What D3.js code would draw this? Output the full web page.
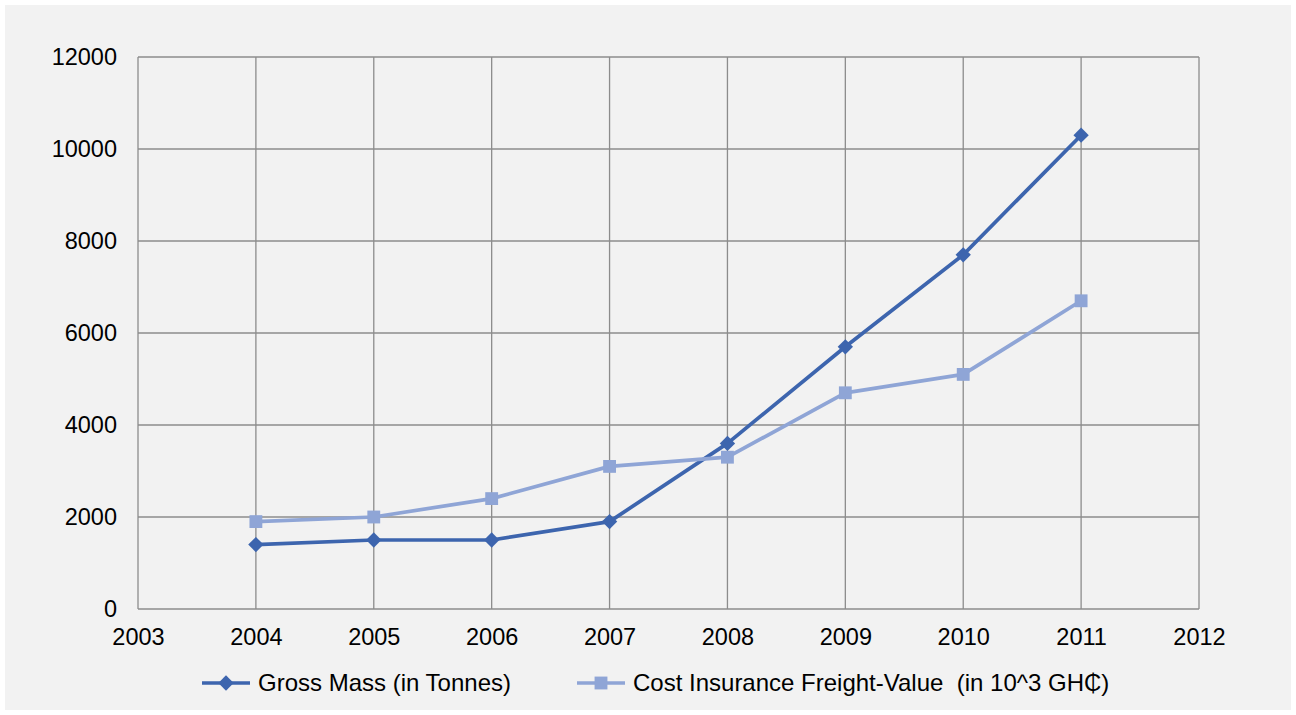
<!DOCTYPE html>
<html>
<head>
<meta charset="utf-8">
<script src="https://cdn.jsdelivr.net/npm/d3@7"></script>
<style>
  body { margin: 0; background: #fff; }
  svg { display: block; font-family: "Liberation Sans", Arial, sans-serif; }
</style>
</head>
<body>
<svg id="chart" width="1296" height="715"></svg>
<script>
const years = [2004, 2005, 2006, 2007, 2008, 2009, 2010, 2011];
const grossMass = [1400, 1500, 1500, 1900, 3600, 5700, 7700, 10300];
const cifValue = [1900, 2000, 2400, 3100, 3300, 4700, 5100, 6700];
const yTicks = [0, 2000, 4000, 6000, 8000, 10000, 12000];
const xTicks = [2003, 2004, 2005, 2006, 2007, 2008, 2009, 2010, 2011, 2012];

const series = [
  {name: 'Gross Mass (in Tonnes)', values: grossMass, color: '#3d65ae', shape: d3.symbolDiamond2, size: 150},
  {name: 'Cost Insurance Freight-Value  (in 10^3 GH\u20B5)', values: cifValue, color: '#8fa5d6', shape: d3.symbolSquare2, size: 210}
];

const fontSize = '23.5px';
const svg = d3.select('#chart');
svg.append('rect').attr('x', 5).attr('y', 5).attr('width', 1286).attr('height', 705).attr('fill', '#f2f2f2');

const x = d3.scaleLinear().domain([2003, 2012]).range([138, 1199]);
const y = d3.scaleLinear().domain([0, 12000]).range([609, 57]);

// grid
let grid = svg.append('g');
grid.selectAll('.hg').data(yTicks).enter().append('line')
  .attr('x1', x(2003)).attr('x2', x(2012))
  .attr('y1', d => y(d)).attr('y2', d => y(d))
  .attr('stroke', '#8c8c8c').attr('stroke-width', 1.3);
grid.selectAll('.vg').data(xTicks).enter().append('line')
  .attr('x1', d => x(d)).attr('x2', d => x(d))
  .attr('y1', y(0)).attr('y2', y(12000))
  .attr('stroke', '#8c8c8c').attr('stroke-width', 1.3);

// axes labels
let yAxis = svg.append('g').attr('transform', 'translate(' + x(2003) + ',0)')
  .call(d3.axisLeft(y).tickValues(yTicks).tickSize(0).tickPadding(21).tickFormat(d3.format('d')));
yAxis.select('.domain').remove();
yAxis.selectAll('text').style('font-size', fontSize).attr('fill', '#000');

let xAxis = svg.append('g').attr('transform', 'translate(0,' + y(0) + ')')
  .call(d3.axisBottom(x).tickValues(xTicks).tickSize(0).tickPadding(19).tickFormat(d3.format('d')));
xAxis.select('.domain').remove();
xAxis.selectAll('text').style('font-size', fontSize).attr('fill', '#000');

// lines + markers
const line = d3.line().x((d, i) => x(years[i])).y(d => y(d));
series.forEach(s => {
  svg.append('path').datum(s.values).attr('d', line)
    .attr('fill', 'none').attr('stroke', s.color).attr('stroke-width', 3.7).attr('stroke-linejoin', 'round');
  svg.selectAll(null).data(s.values).enter().append('path')
    .attr('d', d3.symbol().type(s.shape).size(s.size))
    .attr('transform', (d, i) => 'translate(' + x(years[i]) + ',' + y(d) + ')')
    .attr('fill', s.color);
});

// legend
const legendX = [202, 577];
let legend = svg.selectAll('.legend').data(series).enter().append('g')
  .attr('transform', (d, i) => 'translate(' + legendX[i] + ',683)');
legend.append('line').attr('x1', 0).attr('x2', 48).attr('stroke', d => d.color).attr('stroke-width', 3.7);
legend.append('path').attr('d', d => d3.symbol().type(d.shape).size(d.size)()).attr('transform', 'translate(24,0)').attr('fill', d => d.color);
legend.append('text').attr('x', 56).attr('dy', '0.35em').style('font-size', '24px')
  .style('white-space', 'pre').text(d => d.name);
</script>
</body>
</html>
